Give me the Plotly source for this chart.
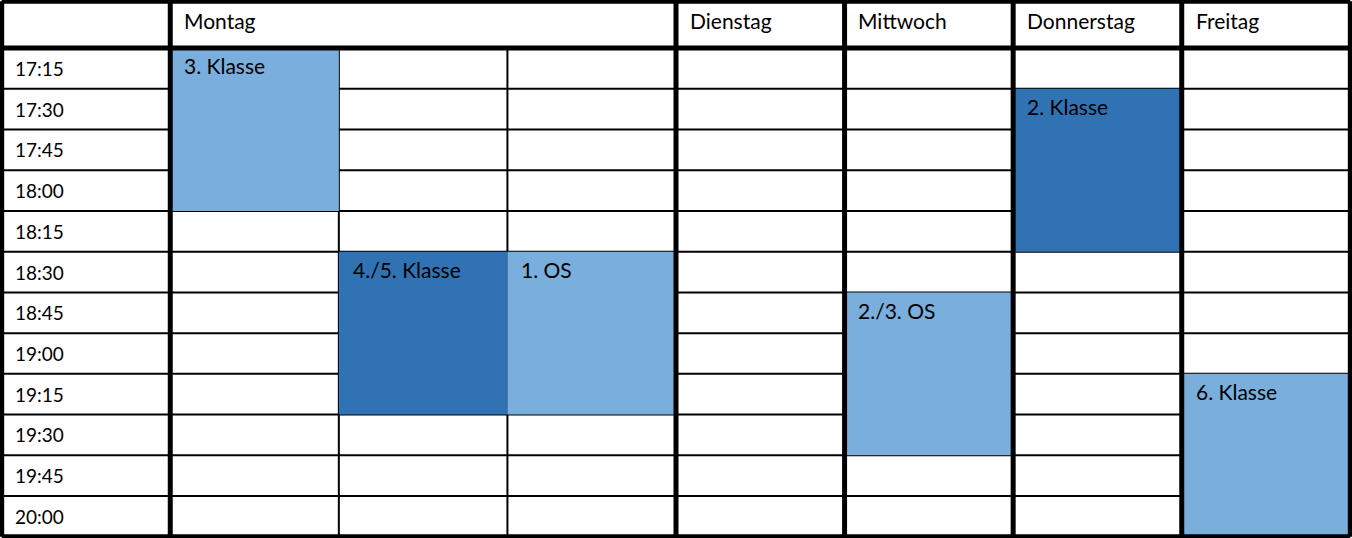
import plotly.graph_objects as go

days = ["Montag", "Dienstag", "Mittwoch", "Donnerstag", "Freitag"]
day_start_col = [1, 4, 5, 6, 7]   # Montag spans three sub-columns
times = ["17:15", "17:30", "17:45", "18:00", "18:15", "18:30",
         "18:45", "19:00", "19:15", "19:30", "19:45", "20:00"]

ev_labels = ["3. Klasse", "2. Klasse", "4./5. Klasse", "1. OS", "2./3. OS", "6. Klasse"]
ev_col = [1, 6, 2, 3, 5, 7]
ev_first_row = [0, 1, 5, 5, 6, 8]
ev_last_row = [3, 4, 8, 8, 9, 11]
ev_dark = [False, True, True, False, False, False]

LIGHT = "#7aaedd"
DARK = "#3072b3"
HDR = 1.15
n_cols = 8
n_rows = len(times)
bottom = HDR + n_rows

fig = go.Figure()
shapes = []
annotations = []

# horizontal thin lines
for i in range(1, n_rows):
    y = HDR + i
    shapes.append(dict(type="line", x0=0, x1=n_cols, y0=y, y1=y,
                       line=dict(color="black", width=2), layer="below"))
# thin vertical lines inside Montag
for x in [2, 3]:
    shapes.append(dict(type="line", x0=x, x1=x, y0=HDR, y1=bottom,
                       line=dict(color="black", width=2), layer="below"))

# events
for lab, c, r0, r1, dk in zip(ev_labels, ev_col, ev_first_row, ev_last_row, ev_dark):
    shapes.append(dict(type="rect", x0=c, x1=c + 1, y0=HDR + r0, y1=HDR + r1 + 1,
                       fillcolor=DARK if dk else LIGHT, line=dict(width=0)))
    annotations.append(dict(x=c + 0.07, y=HDR + r0 + 0.08, text=lab, showarrow=False,
                            xanchor="left", yanchor="top", font=dict(size=21, color="black")))

# thick lines
for x in [0, 1, 4, 5, 6, 7, 8]:
    shapes.append(dict(type="line", x0=x, x1=x, y0=0, y1=bottom,
                       line=dict(color="black", width=5)))
for y in [0, HDR, bottom]:
    shapes.append(dict(type="line", x0=0, x1=n_cols, y0=y, y1=y,
                       line=dict(color="black", width=5)))

for d, c in zip(days, day_start_col):
    annotations.append(dict(x=c + 0.07, y=0.12, text=d, showarrow=False,
                            xanchor="left", yanchor="top", font=dict(size=21, color="black")))
for i, t in enumerate(times):
    annotations.append(dict(x=0.07, y=HDR + i + 0.5, text=t, showarrow=False,
                            xanchor="left", yanchor="middle", font=dict(size=19, color="black")))

fig.update_layout(
    width=1352, height=538,
    margin=dict(l=0, r=0, t=0, b=0),
    paper_bgcolor="white", plot_bgcolor="white",
    font=dict(family="Lato"),
    shapes=shapes, annotations=annotations,
    xaxis=dict(range=[-0.01, n_cols + 0.01], visible=False, fixedrange=True),
    yaxis=dict(range=[bottom + 0.03, -0.03], visible=False, fixedrange=True),
    showlegend=False,
)
fig.write_html("out.html", config={"displayModeBar": False},
               post_script="document.body.style.margin='0';document.body.style.overflow='hidden';")
